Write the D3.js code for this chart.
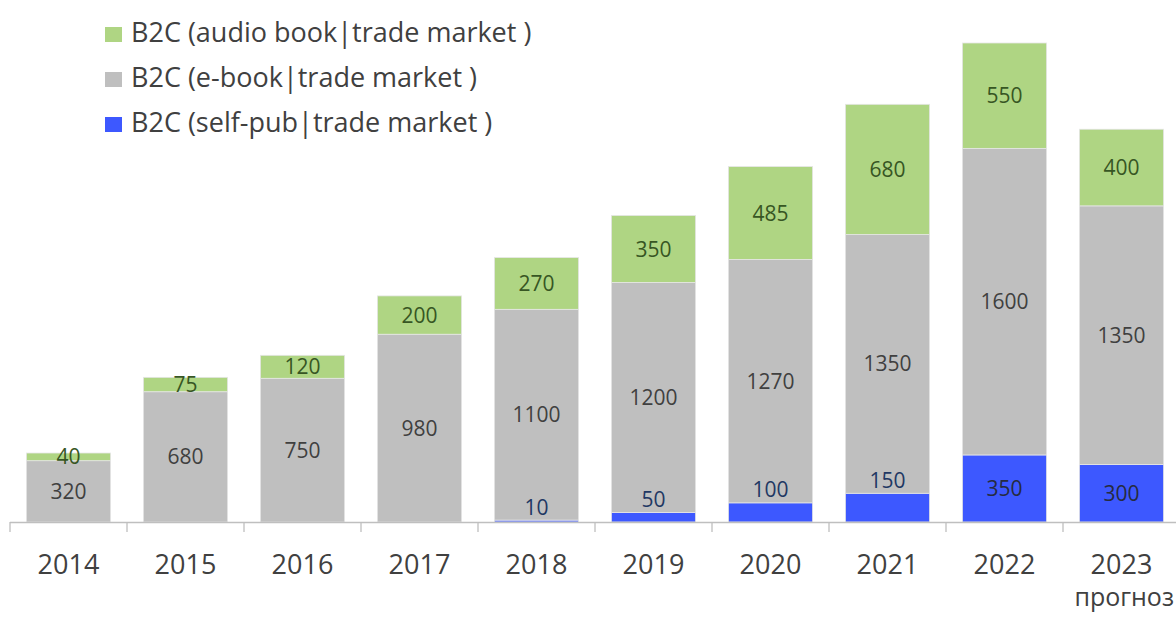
<!DOCTYPE html>
<html>
<head>
<meta charset="utf-8">
<script src="https://cdn.jsdelivr.net/npm/d3@7"></script>
<style>
  body { margin: 0; background: #fff; }
  text { font-family: "Open Sans", sans-serif; }
</style>
</head>
<body>
<div id="graphicContainer"></div>
<script>
var years = ["2014", "2015", "2016", "2017", "2018", "2019", "2020", "2021", "2022", "2023"]
var selfPub = [0, 0, 0, 0, 10, 50, 100, 150, 350, 300]
var ebook = [320, 680, 750, 980, 1100, 1200, 1270, 1350, 1600, 1350]
var audio = [40, 75, 120, 200, 270, 350, 485, 680, 550, 400]
var seriesNames = ["B2C (self-pub|trade market )", "B2C (e-book|trade market )", "B2C (audio book|trade market )"]

var width = 1176, height = 617

var svg = d3.select("#graphicContainer").append("svg")
    .attr("width", width)
    .attr("height", height)

var colors = { selfPub: "#3d58ff", ebook: "#bfbfbf", audio: "#afd583" }

var table = years.map(function(y, i) {
    return { year: y, selfPub: selfPub[i], ebook: ebook[i], audio: audio[i] }
})

var keys = ["selfPub", "ebook", "audio"]
var stacked = d3.stack().keys(keys)(table)

var x = d3.scaleBand()
    .domain(years)
    .range([10, 1180])
    .paddingInner(0.28)
    .paddingOuter(0.14)

var y = d3.scaleLinear()
    .domain([0, 2500])
    .range([522, 43])

// bars
stacked.forEach(function(layer) {
    svg.append("g")
        .selectAll("rect")
        .data(layer)
        .enter()
        .append("rect")
        .attr("x", d => x(d.data.year))
        .attr("width", x.bandwidth())
        .attr("y", d => y(d[1]))
        .attr("height", d => y(d[0]) - y(d[1]))
        .attr("fill", colors[layer.key])
        .attr("stroke", d => (d[1] - d[0]) > 0 ? "#e6e6e6" : "none")
        .attr("stroke-width", 0.8)
})

// value labels
var labelColors = { selfPub: "#1f3864", ebook: "#404040", audio: "#375623" }
stacked.forEach(function(layer) {
    svg.append("g")
        .selectAll("text")
        .data(layer.filter(d => d[1] - d[0] > 0))
        .enter()
        .append("text")
        .attr("x", d => x(d.data.year) + x.bandwidth() / 2)
        .attr("y", function(d) {
            var v = d[1] - d[0]
            // small self-pub values sit just above their segment
            if (layer.key == "selfPub" && v < 200) return y(d[1]) - 13
            return (y(d[0]) + y(d[1])) / 2
        })
        .attr("dy", "0.36em")
        .attr("text-anchor", "middle")
        .attr("font-size", "21px")
        .attr("fill", function(d) {
            if (layer.key == "selfPub" && d[1] - d[0] >= 200) return "#262b40"
            return labelColors[layer.key]
        })
        .text(d => d[1] - d[0])
})

// x axis
var step = x.step()
svg.append("line")
    .attr("x1", 10).attr("x2", width)
    .attr("y1", 522.5).attr("y2", 522.5)
    .attr("stroke", "#bfbfbf")
    .attr("stroke-width", 1.3)

var bounds = years.map(y => x(y) - step * x.paddingInner() / 2)
svg.append("g")
    .selectAll("line")
    .data(bounds)
    .enter()
    .append("line")
    .attr("x1", d => d).attr("x2", d => d)
    .attr("y1", 522).attr("y2", 532)
    .attr("stroke", "#bfbfbf")
    .attr("stroke-width", 1.3)

svg.append("g")
    .selectAll("text")
    .data(years)
    .enter()
    .append("text")
    .attr("x", d => x(d) + x.bandwidth() / 2)
    .attr("y", 574)
    .attr("text-anchor", "middle")
    .attr("font-size", "27px")
    .attr("fill", "#404040")
    .text(d => d)

svg.append("text")
    .attr("x", width - 2)
    .attr("y", 606)
    .attr("text-anchor", "end")
    .attr("font-size", "25px")
    .attr("fill", "#404040")
    .text("прогноз")

// legend
var legendKeys = ["audio", "ebook", "selfPub"]
var legend = svg.append("g")
legendKeys.forEach(function(k, i) {
    legend.append("rect")
        .attr("x", 105)
        .attr("y", 27 + i * 45)
        .attr("width", 17)
        .attr("height", 15)
        .attr("fill", colors[k])
    legend.append("text")
        .attr("x", 131)
        .attr("y", 42 + i * 45)
        .attr("font-size", "27px")
        .attr("fill", "#404040")
        .text(seriesNames[2 - i])
})
</script>
</body>
</html>
